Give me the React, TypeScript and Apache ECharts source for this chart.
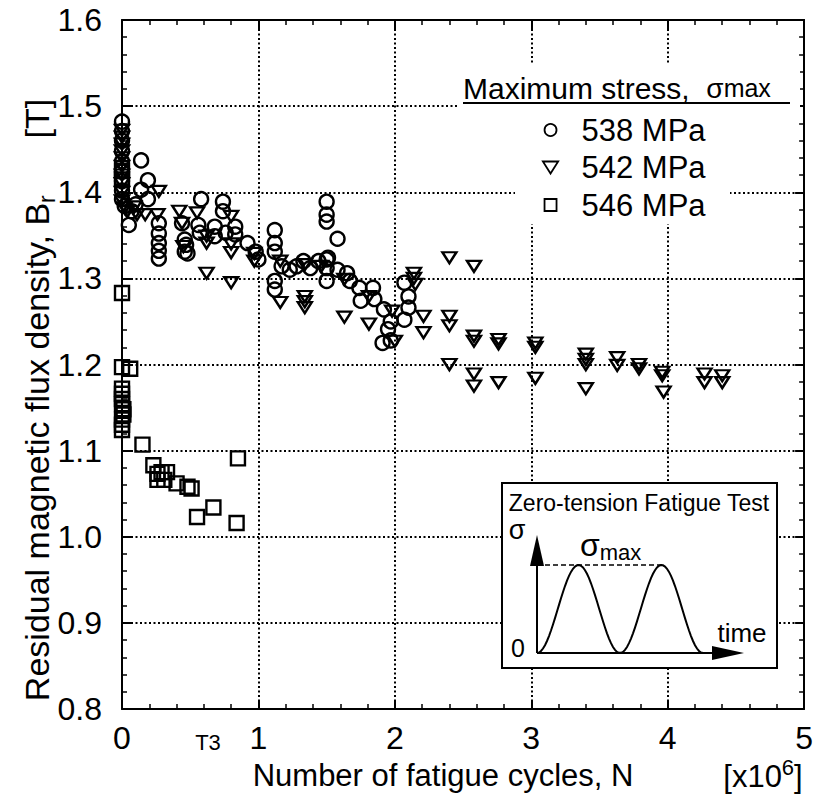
import React, { useEffect, useRef } from "react";
import * as echarts from "echarts";

const FONT = '"Liberation Sans", Arial, Helvetica, sans-serif';

const seriesNames = ["538 MPa", "542 MPa", "546 MPa"];
const xTickLabels = ["0", "1", "2", "3", "4", "5"];
const yTickLabels = ["0.8", "0.9", "1.0", "1.1", "1.2", "1.3", "1.4", "1.5", "1.6"];

// N [x10^6], Br [T]
const s538: [number, number][] = [
  [0, 1.482], [0, 1.471], [0, 1.46], [0, 1.448], [0, 1.436], [0, 1.424], [0, 1.413], [0, 1.402], [0, 1.392], [0.02, 1.384],
  [0.05, 1.362], [0.07, 1.378], [0.1, 1.386], [0.14, 1.437], [0.19, 1.414], [0.14, 1.403], [0.19, 1.392],
  [0.27, 1.364], [0.27, 1.352], [0.27, 1.341], [0.27, 1.332], [0.27, 1.323],
  [0.44, 1.364], [0.46, 1.345], [0.47, 1.339], [0.46, 1.331], [0.48, 1.329],
  [0.58, 1.392], [0.56, 1.362], [0.57, 1.353], [0.68, 1.36], [0.68, 1.349], [0.76, 1.353], [0.74, 1.389], [0.74, 1.378],
  [0.83, 1.351], [0.83, 1.36], [0.92, 1.341], [0.98, 1.331], [1.0, 1.322],
  [1.12, 1.356], [1.12, 1.341], [1.12, 1.331], [1.17, 1.314], [1.23, 1.31], [1.12, 1.297], [1.12, 1.287], [1.28, 1.314],
  [1.33, 1.32], [1.38, 1.312], [1.44, 1.32],
  [1.5, 1.389], [1.5, 1.374], [1.5, 1.366], [1.58, 1.346], [1.5, 1.322], [1.5, 1.312], [1.5, 1.297], [1.51, 1.324],
  [1.58, 1.31], [1.65, 1.306], [1.67, 1.297], [1.74, 1.289], [1.75, 1.274], [1.84, 1.289], [1.85, 1.276],
  [1.92, 1.264], [1.97, 1.25], [1.95, 1.241], [1.91, 1.225], [1.97, 1.228], [2.07, 1.295], [2.1, 1.279], [2.1, 1.266], [2.07, 1.252],
];

const s542: [number, number][] = [
  [0, 1.472], [0, 1.464], [0, 1.456], [0, 1.448], [0, 1.44], [0, 1.43], [0, 1.42], [0, 1.41], [0, 1.4], [0, 1.39], [0.02, 1.382], [0.04, 1.378],
  [0.09, 1.383], [0.11, 1.374], [0.17, 1.374], [0.26, 1.374], [0.27, 1.401],
  [0.42, 1.378], [0.55, 1.376], [0.44, 1.364], [0.45, 1.337],
  [0.62, 1.349], [0.62, 1.341], [0.62, 1.306], [0.8, 1.372], [0.8, 1.34], [0.8, 1.33], [0.8, 1.295], [0.97, 1.329], [0.97, 1.32],
  [1.16, 1.32], [1.16, 1.272], [1.34, 1.316], [1.34, 1.279], [1.34, 1.273], [1.34, 1.266], [1.46, 1.314], [1.63, 1.299], [1.63, 1.255],
  [1.81, 1.279], [1.81, 1.247], [1.98, 1.262], [2.0, 1.227],
  [2.14, 1.306], [2.14, 1.3], [2.15, 1.293], [2.21, 1.256], [2.21, 1.237], [2.4, 1.324], [2.4, 1.256], [2.4, 1.245], [2.4, 1.2],
  [2.58, 1.314], [2.58, 1.233], [2.58, 1.227], [2.58, 1.189], [2.58, 1.175], [2.76, 1.229], [2.76, 1.224], [2.76, 1.179],
  [3.03, 1.225], [3.03, 1.22], [3.03, 1.184], [3.4, 1.212], [3.4, 1.206], [3.4, 1.2], [3.4, 1.172], [3.63, 1.208], [3.63, 1.199],
  [3.79, 1.2], [3.79, 1.195], [3.96, 1.191], [3.96, 1.187], [3.97, 1.168], [4.27, 1.189], [4.27, 1.179], [4.4, 1.187], [4.4, 1.179],
];

const s546: [number, number][] = [
  [0, 1.425], [0, 1.415], [0, 1.283], [0, 1.197], [0.06, 1.195], [0, 1.172], [0, 1.166], [0, 1.16], [0, 1.154], [0.01, 1.148],
  [0.01, 1.142], [0, 1.136], [0, 1.13], [0, 1.124],
  [0.15, 1.107], [0.23, 1.083], [0.26, 1.073], [0.29, 1.075], [0.33, 1.075], [0.26, 1.066], [0.31, 1.066], [0.4, 1.062],
  [0.48, 1.058], [0.51, 1.056], [0.55, 1.023], [0.67, 1.034], [0.84, 1.016], [0.85, 1.091],
];

const TRI_DOWN = "path://M0,0 L14,0 L7,11 Z";
const SQUARE = "path://M0,0 L10,0 L10,10 L0,10 Z";

export default function App() {
  const ref = useRef<HTMLDivElement>(null);

  useEffect(() => {
    document.body.style.margin = "0";
    if (!ref.current) return;
    const chart = echarts.init(ref.current, undefined, { renderer: "svg" });

    const markerStyle = { color: "rgba(0,0,0,0)", borderColor: "#000", borderWidth: 2.4, opacity: 1 };

    const axisCommon = (show: boolean) => ({
      type: "value" as const,
      axisLine: { show: true, onZero: false, lineStyle: { color: "#000", width: 2 } },
      axisTick: { show: true, inside: true, length: 9, lineStyle: { color: "#000", width: 2 } },
      minorTick: { show: true, splitNumber: 5, length: 5, lineStyle: { color: "#000", width: 1.5 } },
      splitLine: { show, lineStyle: { color: "#000", width: 2, type: [2, 2.5] } },
    });

    // inset wave (schematic drawing)
    const wave: number[][] = [];
    for (let x = 537; x <= 703; x += 2) {
      const y = 653 - 88 * (1 - Math.cos((2 * Math.PI * (x - 537)) / 83)) / 2;
      wave.push([x, y]);
    }

    const txt = (x: number, y: number, text: string, size: number, extra: any = {}) => ({
      type: "text",
      x,
      y,
      z: 6,
      style: {
        text,
        fill: "#000",
        fontSize: size,
        fontFamily: FONT,
        textAlign: "left",
        textVerticalAlign: "middle",
        ...extra,
      },
    });

    chart.setOption({
      animation: false,
      backgroundColor: "#fff",
      grid: { left: 122, right: 6, top: 20, bottom: 88, containLabel: false },
      xAxis: [
        {
          ...axisCommon(true),
          min: 0,
          max: 5,
          interval: 1,
          position: "bottom",
          axisLabel: {
            color: "#000",
            fontSize: 32,
            fontFamily: FONT,
            margin: 13,
            formatter: (v: number) => xTickLabels[Math.round(v)] ?? "",
          },
          name: "Number of fatigue cycles, N",
          nameLocation: "middle",
          nameGap: 51,
          nameTextStyle: { color: "#000", fontSize: 31, fontFamily: FONT, padding: [0, 40, 0, 0] },
        },
        {
          ...axisCommon(false),
          min: 0,
          max: 5,
          interval: 1,
          position: "top",
          axisLabel: { show: false },
        },
      ],
      yAxis: [
        {
          ...axisCommon(true),
          min: 0.8,
          max: 1.6,
          interval: 0.1,
          position: "left",
          axisLabel: {
            color: "#000",
            fontSize: 32,
            fontFamily: FONT,
            margin: 20,
            formatter: (v: number) => yTickLabels[Math.round((v - 0.8) * 10)] ?? "",
          },
        },
        {
          ...axisCommon(false),
          min: 0.8,
          max: 1.6,
          interval: 0.1,
          position: "right",
          axisLabel: { show: false },
        },
      ],
      legend: {
        orient: "vertical",
        left: 542,
        top: 114,
        padding: 0,
        itemWidth: 52,
        itemHeight: 12,
        itemGap: 5.5,
        symbolKeepAspect: true,
        selectedMode: false,
        itemStyle: { color: "rgba(0,0,0,0)", borderColor: "#000", borderWidth: 1.8, opacity: 1 },
        textStyle: { color: "#000", fontSize: 31, fontFamily: FONT, lineHeight: 32 },
        data: [
          { name: seriesNames[0], icon: "circle" },
          { name: seriesNames[1], icon: TRI_DOWN },
          { name: seriesNames[2], icon: SQUARE },
        ],
      },
      series: [
        { type: "scatter", name: seriesNames[0], data: s538, symbol: "circle", symbolSize: 14, itemStyle: markerStyle },
        { type: "scatter", name: seriesNames[1], data: s542, symbol: TRI_DOWN, symbolSize: [14, 11], itemStyle: markerStyle },
        { type: "scatter", name: seriesNames[2], data: s546, symbol: SQUARE, symbolSize: 14, itemStyle: markerStyle },
      ],
      graphic: [
        // legend backdrop
        { type: "rect", z: 1, shape: { x: 458, y: 64, width: 342, height: 44 }, style: { fill: "#fff" } },
        { type: "rect", z: 1, shape: { x: 515, y: 108, width: 215, height: 116 }, style: { fill: "#fff" } },
        txt(463, 88, "{a|Maximum stress,  }{s|σ}{m|max}", 30, {
          rich: {
            a: { fontSize: 30, fontFamily: FONT, fill: "#000" },
            s: { fontSize: 28, fontFamily: FONT, fill: "#000" },
            m: { fontSize: 25, fontFamily: FONT, fill: "#000" },
          },
        }),
        { type: "line", z: 6, shape: { x1: 463, y1: 103, x2: 790, y2: 103 }, style: { stroke: "#000", lineWidth: 2 } },
        // y axis title
        {
          type: "text",
          x: 37,
          y: 400,
          rotation: Math.PI / 2,
          z: 6,
          style: {
            text: "{m|Residual magnetic flux density, B}{sub|r}{m|      [T]}",
            textAlign: "center",
            textVerticalAlign: "middle",
            fill: "#000",
            rich: {
              m: { fontSize: 34, fontFamily: FONT, lineHeight: 42, fill: "#000" },
              sub: { fontSize: 23, fontFamily: FONT, lineHeight: 23, verticalAlign: "bottom", fill: "#000" },
            },
          },
        },
        // x-axis unit and T3
        {
          type: "text",
          x: 763,
          y: 776,
          z: 6,
          style: {
            text: "{a|[x10}{s|6}{a|]}",
            textAlign: "center",
            textVerticalAlign: "middle",
            fill: "#000",
            rich: {
              a: { fontSize: 31, fontFamily: FONT, lineHeight: 40, fill: "#000" },
              s: { fontSize: 22, fontFamily: FONT, lineHeight: 22, verticalAlign: "top", fill: "#000" },
            },
          },
        },
        txt(208, 742, "T3", 22, { textAlign: "center" }),
        // inset
        { type: "rect", z: 3, shape: { x: 502, y: 483, width: 275, height: 185 }, style: { fill: "#fff", stroke: "#000", lineWidth: 2 } },
        txt(639, 503, "Zero-tension Fatigue Test", 23, { textAlign: "center" }),
        txt(517, 530, "σ", 27, { textAlign: "center" }),
        txt(518, 648, "0", 25, { textAlign: "center" }),
        txt(742, 633, "time", 26, { textAlign: "center" }),
        txt(580, 545, "{s|σ}{m|max}", 30, {
          rich: {
            s: { fontSize: 32, fontFamily: FONT, lineHeight: 36, fill: "#000" },
            m: { fontSize: 22, fontFamily: FONT, lineHeight: 22, verticalAlign: "bottom", fill: "#000" },
          },
        }),
        { type: "line", z: 5, shape: { x1: 537, y1: 653, x2: 537, y2: 560 }, style: { stroke: "#000", lineWidth: 2 } },
        { type: "polygon", z: 5, shape: { points: [[530, 566], [544, 566], [537, 535]] }, style: { fill: "#000" } },
        { type: "line", z: 5, shape: { x1: 537, y1: 653, x2: 715, y2: 653 }, style: { stroke: "#000", lineWidth: 2 } },
        { type: "polygon", z: 5, shape: { points: [[712, 646], [712, 660], [744, 653]] }, style: { fill: "#000" } },
        { type: "line", z: 5, shape: { x1: 537, y1: 565, x2: 662, y2: 565 }, style: { stroke: "#000", lineWidth: 1.5, lineDash: [5, 3] } },
        { type: "polyline", z: 5, shape: { points: wave }, style: { stroke: "#000", lineWidth: 2, fill: null } },
      ],
    });

    return () => chart.dispose();
  }, []);

  return <div ref={ref} style={{ width: 816, height: 797 }} />;
}
